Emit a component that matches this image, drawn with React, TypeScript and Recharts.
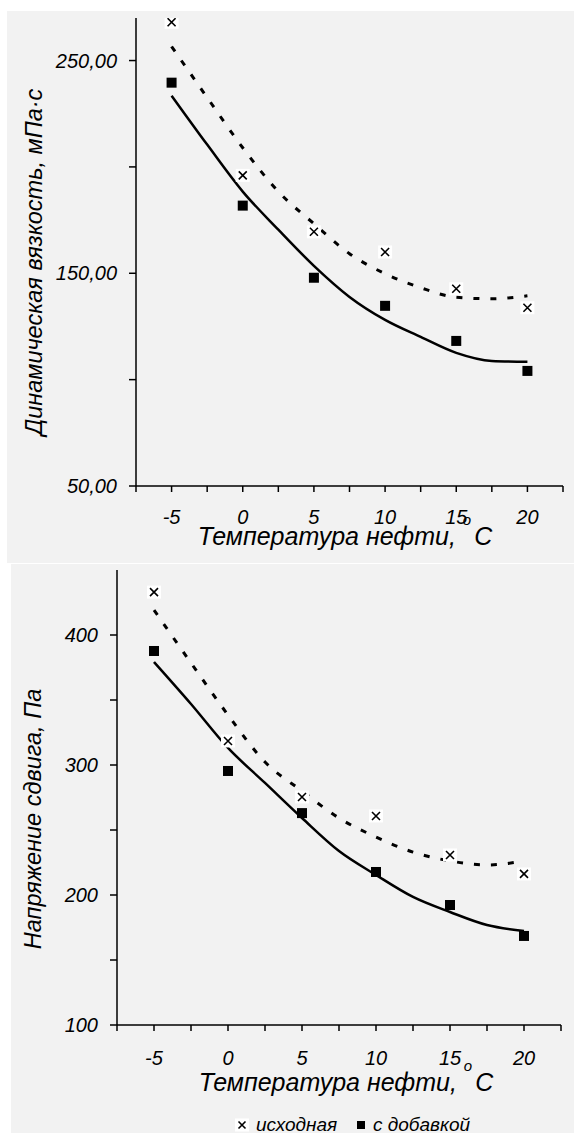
import React from "react";
import { ComposedChart, Line, Scatter, XAxis, YAxis, Label } from "recharts";

// температура нефти, °C
const temps = [-5, 0, 5, 10, 15, 20];
const xTicks = [-7.5, -5, -2.5, 0, 2.5, 5, 7.5, 10, 12.5, 15, 17.5, 20, 22.5];

// динамическая вязкость, мПа·с
const viscBase = [268, 196, 169.5, 160, 142.7, 133.8];
const viscAdd = [239.6, 181.8, 147.9, 134.7, 118.2, 104.1];

// линии тренда
const trendX = [-5, -2.5, 0, 2.5, 5, 7.5, 10, 12.5, 15, 17.5, 20];
const viscBaseTrend = [256.6, 232.6, 209, 188.4, 173.3, 159.2, 149.8, 143.2, 138.7, 138, 139.4];
const viscAddTrend = [233.5, 210.5, 188.4, 170.5, 153.5, 138.9, 128.1, 120.1, 112.6, 108.8, 108.4];

// напряжение сдвига, Па
const shearBase = [433, 318.5, 275.4, 260.8, 230.8, 216.2];
const shearAdd = [387.7, 295.4, 263, 217.7, 192.3, 168.5];
const shearBaseTrend = [419.2, 378.5, 338.5, 302.3, 280, 259.2, 244.6, 233, 226.2, 223.1, 226.2];
const shearAddTrend = [379.2, 346.9, 313.1, 286.2, 259.2, 233.8, 215.4, 198.5, 186.9, 176.9, 172.3];

const viscTicks = [50, 100, 150, 200, 250];
const shearTicks = [100, 150, 200, 250, 300, 350, 400];

const FONT = "'Liberation Sans', Arial, sans-serif";
const BG = "#f2f2f2";

const toPoints = (xs: number[], ys: number[]) => xs.map((x, i) => ({ x, y: ys[i] }));

const CrossMark = (props: any) => {
  const { cx, cy } = props;
  if (cx == null || cy == null) return null;
  const s = props.small ? 3.5 : 4;
  return (
    <g>
      <rect x={cx - 7} y={cy - 6.5} width={14} height={13} fill="#fff" />
      <path
        d={`M${cx - s},${cy - s}L${cx + s},${cy + s}M${cx + s},${cy - s}L${cx - s},${cy + s}`}
        stroke="#000"
        strokeWidth={1.6}
      />
    </g>
  );
};

const SquareMark = (props: any) => {
  const { cx, cy } = props;
  if (cx == null || cy == null) return null;
  return <rect x={cx - 5} y={cy - 5} width={10} height={10} fill="#000" />;
};

const tickStyle = { fill: "#000", fontSize: 20, fontStyle: "italic", fontFamily: FONT };
const xFmt = (v: number) => (v % 5 === 0 ? String(v) : "");

function XTitle({ cx, y }: { cx: number; y: number }) {
  return (
    <text x={cx} y={y} textAnchor="middle" fontSize={25} fontStyle="italic" fontFamily={FONT} fill="#000">
      Температура нефти,{" "}
      <tspan dy={-20} fontSize={15}>o</tspan>
      <tspan dy={20} dx={3}>C</tspan>
    </text>
  );
}

function YTitle({ cx, cy, text }: { cx: number; cy: number; text: string }) {
  return (
    <text
      x={cx}
      y={cy}
      transform={`rotate(-90, ${cx}, ${cy})`}
      textAnchor="middle"
      dominantBaseline="central"
      fontSize={23.5}
      fontStyle="italic"
      fontFamily={FONT}
      fill="#000"
    >
      {text}
    </text>
  );
}

function Panel(props: {
  left: number;
  top: number;
  width: number;
  height: number;
  margin: { top: number; right: number; bottom: number; left: number };
  yWidth: number;
  xHeight: number;
  yDomain: [number, number];
  yTicks: number[];
  yFmt: (v: number) => string;
  tickMargin: number;
  base: number[];
  add: number[];
  baseTrend: number[];
  addTrend: number[];
  yTitle: string;
  yTitlePos: [number, number];
  xTitlePos: [number, number];
  legend?: boolean;
}) {
  return (
    <div
      style={{
        position: "absolute",
        left: props.left,
        top: props.top,
        width: props.width,
        height: props.height,
        background: BG,
      }}
    >
      <ComposedChart width={props.width} height={props.height} margin={props.margin}>
        <XAxis
          type="number"
          dataKey="x"
          domain={[-7.5, 22.5]}
          ticks={xTicks}
          interval={0}
          tickFormatter={xFmt}
          height={props.xHeight}
          axisLine={{ stroke: "#000", strokeWidth: 1.5 }}
          tickLine={{ stroke: "#000", strokeWidth: 1.5 }}
          tickSize={6}
          tickMargin={props.tickMargin}
          tick={tickStyle}
        >
          <Label
            content={() => (
              <g>
                <XTitle cx={props.xTitlePos[0]} y={props.xTitlePos[1]} />
                {props.legend && (
                  <g fontFamily={FONT} fontStyle="italic" fontSize={19} fill="#000">
                    <CrossMark cx={231} cy={561} small />
                    <text x={245} y={567}>исходная</text>
                    <rect x={346} y={557} width={8} height={8} fill="#000" />
                    <text x={362} y={567}>с добавкой</text>
                  </g>
                )}
              </g>
            )}
          />
        </XAxis>
        <YAxis
          type="number"
          domain={props.yDomain}
          ticks={props.yTicks}
          interval={0}
          tickFormatter={props.yFmt}
          width={props.yWidth}
          axisLine={{ stroke: "#000", strokeWidth: 1.5 }}
          tickLine={{ stroke: "#000", strokeWidth: 1.5 }}
          tickSize={7}
          tickMargin={12}
          tick={tickStyle}
          allowDataOverflow
        >
          <Label content={() => <YTitle cx={props.yTitlePos[0]} cy={props.yTitlePos[1]} text={props.yTitle} />} />
        </YAxis>
        <Line
          data={toPoints(trendX, props.baseTrend)}
          dataKey="y"
          type="monotone"
          stroke="#000"
          strokeWidth={3}
          strokeDasharray="6 11"
          dot={false}
          activeDot={false}
          isAnimationActive={false}
        />
        <Line
          data={toPoints(trendX, props.addTrend)}
          dataKey="y"
          type="monotone"
          stroke="#000"
          strokeWidth={2.5}
          dot={false}
          activeDot={false}
          isAnimationActive={false}
        />
        <Scatter data={toPoints(temps, props.base)} dataKey="y" shape={<CrossMark />} isAnimationActive={false} />
        <Scatter data={toPoints(temps, props.add)} dataKey="y" shape={<SquareMark />} isAnimationActive={false} />
      </ComposedChart>
    </div>
  );
}

export default function App() {
  return (
    <div style={{ position: "absolute", left: 0, top: 0, width: 574, height: 1133, background: "#fff" }}>
      <Panel
        left={7}
        top={11}
        width={567}
        height={552}
        margin={{ top: 7, right: 11, bottom: 0, left: 0 }}
        yWidth={129}
        xHeight={77}
        yDomain={[50, 270]}
        yTicks={viscTicks}
        yFmt={(v) => (v % 100 === 50 ? v.toFixed(2).replace(".", ",") : "")}
        tickMargin={18}
        base={viscBase}
        add={viscAdd}
        baseTrend={viscBaseTrend}
        addTrend={viscAddTrend}
        yTitle="Динамическая вязкость, мПа·с"
        yTitlePos={[27, 251]}
        xTitlePos={[338, 534]}
      />
      <Panel
        left={11}
        top={564}
        width={563}
        height={569}
        margin={{ top: 6, right: 13, bottom: 0, left: 0 }}
        yWidth={106}
        xHeight={108}
        yDomain={[100, 450]}
        yTicks={shearTicks}
        yFmt={(v) => (v % 100 === 0 ? String(v) : "")}
        tickMargin={20}
        base={shearBase}
        add={shearAdd}
        baseTrend={shearBaseTrend}
        addTrend={shearAddTrend}
        yTitle="Напряжение сдвига, Па"
        yTitlePos={[22, 255]}
        xTitlePos={[335, 527]}
        legend
      />
    </div>
  );
}
